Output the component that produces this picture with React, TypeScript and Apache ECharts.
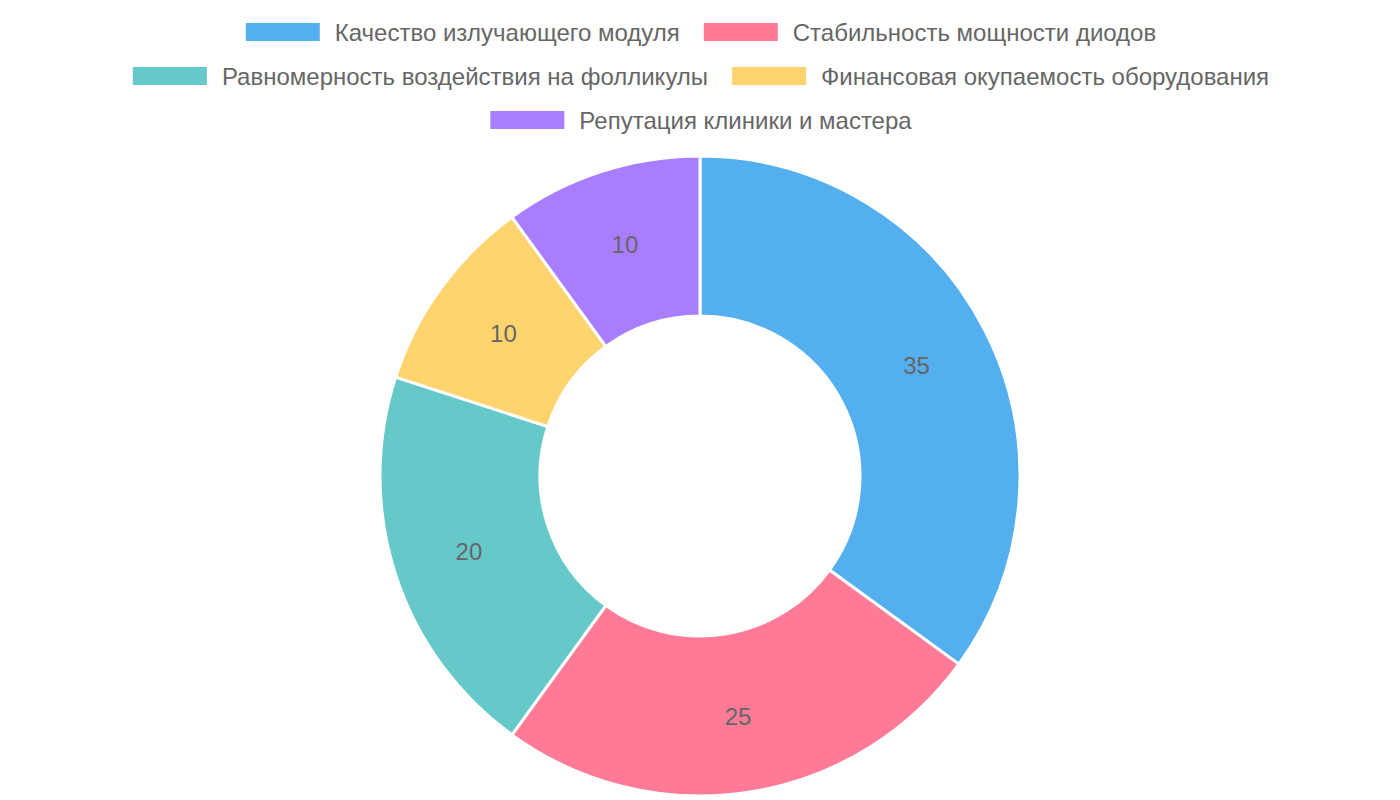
import { useRef, useEffect } from 'react';
import * as echarts from 'echarts';

// Doughnut: factors of laser module choice
const categories = [
  'Качество излучающего модуля',
  'Стабильность мощности диодов',
  'Равномерность воздействия на фолликулы',
  'Финансовая окупаемость оборудования',
  'Репутация клиники и мастера',
];
const values = [35, 25, 20, 10, 10];
const colors = ['#54AFEF', '#FF7A96', '#66C9C9', '#FFD46F', '#A87DFF'];

// which legend row each category goes into
const legendRows = [
  [categories[0], categories[1]],
  [categories[2], categories[3]],
  [categories[4]],
];

const FONT = '"Liberation Sans", Arial, Helvetica, sans-serif';

export default function App() {
  const chartRef = useRef<HTMLDivElement>(null);

  useEffect(() => {
    if (!chartRef.current) return;
    const chart = echarts.init(chartRef.current, undefined, { renderer: 'svg' });

    const option: echarts.EChartsOption = {
      animation: false,
      backgroundColor: '#ffffff',
      color: colors,
      legend: legendRows.map((row, i) => ({
        data: row,
        top: 20 + i * 44,
        left: 'center',
        padding: 0,
        itemWidth: 76,
        itemHeight: 20,
        itemGap: 22,
        icon: 'rect',
        textStyle: {
          color: '#666666',
          fontSize: 24,
          lineHeight: 24,
          fontFamily: FONT,
          padding: [0, 0, 0, 9],
        },
        selectedMode: false,
      })),
      series: [
        {
          type: 'pie',
          center: [700, 476],
          radius: [160, 320],
          startAngle: 90,
          clockwise: true,
          avoidLabelOverlap: false,
          data: categories.map((name, i) => ({ name, value: values[i] })),
          itemStyle: {
            borderColor: '#ffffff',
            borderWidth: 3,
          },
          label: {
            show: true,
            position: 'inside',
            formatter: '{c}',
            color: '#666666',
            fontSize: 24,
            fontFamily: FONT,
          },
          labelLine: { show: false },
          emphasis: { disabled: true },
        },
      ],
    };

    chart.setOption(option);
    return () => chart.dispose();
  }, []);

  return (
    <div
      ref={chartRef}
      style={{ position: 'absolute', left: 0, top: 0, width: 1400, height: 800 }}
    />
  );
}
